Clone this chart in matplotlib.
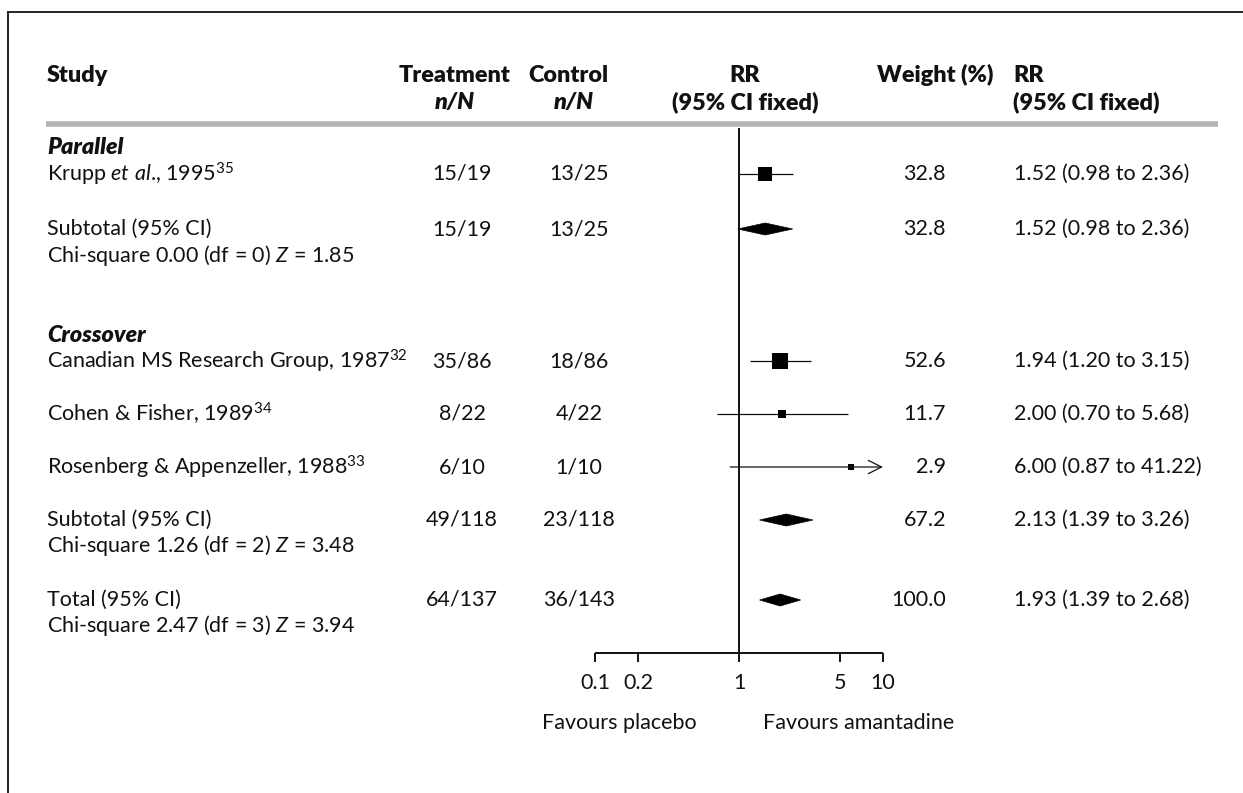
import matplotlib
matplotlib.use("Agg")
import matplotlib.pyplot as plt
import numpy as np
from matplotlib.patches import Polygon

plt.rcParams['font.family'] = ['Lato', 'DejaVu Sans']
plt.rcParams['mathtext.fontset'] = 'custom'
plt.rcParams['mathtext.rm'] = 'Lato'
plt.rcParams['mathtext.it'] = 'Lato:italic'
plt.rcParams['mathtext.bf'] = 'Lato:bold'

# data
group_names = ["Parallel", "Crossover"]
study_labels = [r"Krupp $\mathit{et\ al}$., 1995$^{35}$",
                r"Canadian MS Research Group, 1987$^{32}$",
                r"Cohen & Fisher, 1989$^{34}$",
                r"Rosenberg & Appenzeller, 1988$^{33}$"]
treat = ["15/19", "35/86", "8/22", "6/10"]
ctrl = ["13/25", "18/86", "4/22", "1/10"]
rr = [1.52, 1.94, 2.00, 6.00]
lo = [0.98, 1.20, 0.70, 0.87]
hi = [2.36, 3.15, 5.68, 41.22]
weight = [32.8, 52.6, 11.7, 2.9]

sum_labels = ["Subtotal (95% CI)", "Subtotal (95% CI)", "Total (95% CI)"]
sum_stats = [r"Chi-square 0.00 (df = 0) $\mathit{Z}$ = 1.85",
             r"Chi-square 1.26 (df = 2) $\mathit{Z}$ = 3.48",
             r"Chi-square 2.47 (df = 3) $\mathit{Z}$ = 3.94"]
sum_treat = ["15/19", "49/118", "64/137"]
sum_ctrl = ["13/25", "23/118", "36/143"]
sum_rr = [1.52, 2.13, 1.93]
sum_lo = [0.98, 1.39, 1.39]
sum_hi = [2.36, 3.26, 2.68]
sum_weight = [32.8, 67.2, 100.0]

ticks = [0.1, 0.2, 1, 5, 10]
tick_labels = ["0.1", "0.2", "1", "5", "10"]

# layout (pixels)
W, H = 1243, 793
group_y = [148, 336]
study_y = [174, 361, 414, 467]
sum_y = [229, 520, 600]
line_gap = 26
axis_y = 653
x_one, px_dec = 739, 144
fs = 15.5
fs_head = 16.8
col = '#111111'

fig = plt.figure(figsize=(W / 100, H / 100), dpi=100)
ta = fig.add_axes([0, 0, 1, 1])
ta.set_xlim(0, W)
ta.set_ylim(H, 0)
ta.axis('off')

# border
ta.plot([8, W], [12, 12], color='#222222', lw=1.4)
ta.plot([8, 8], [12, H], color='#222222', lw=1.4)

# headers
hb = dict(fontsize=fs_head, fontweight='heavy', color=col, va='center')
ta.text(47, 75, "Study", ha='left', **hb)
ta.text(455, 75, "Treatment", ha='center', **hb)
ta.text(455, 102, "n/N", ha='center', fontstyle='italic', **hb)
ta.text(568, 75, "Control", ha='center', **hb)
ta.text(574, 102, "n/N", ha='center', fontstyle='italic', **hb)
ta.text(745, 75, "RR", ha='center', **hb)
ta.text(745, 102, "(95% CI fixed)", ha='center', **hb)
ta.text(993, 75, "Weight (%)", ha='right', **hb)
ta.text(1013, 75, "RR", ha='left', **hb)
ta.text(1013, 102, "(95% CI fixed)", ha='left', **hb)
ta.plot([46, 1218], [124, 124], color='#b4b4b4', lw=4, solid_capstyle='butt')

tx = dict(fontsize=fs, color=col, va='center')
for name, y in zip(group_names, group_y):
    ta.text(47, y, name, ha='left', fontsize=fs_head, fontweight='heavy',
            fontstyle='italic', color=col, va='center')

for i, y in enumerate(study_y):
    ta.text(47, y, study_labels[i], ha='left', **tx)
    ta.text(462, y, treat[i], ha='center', **tx)
    ta.text(579, y, ctrl[i], ha='center', **tx)
    ta.text(946, y, "%.1f" % weight[i], ha='right', **tx)
    ta.text(1014, y, "%.2f (%.2f to %.2f)" % (rr[i], lo[i], hi[i]), ha='left', **tx)

for i, y in enumerate(sum_y):
    ta.text(47, y, sum_labels[i], ha='left', **tx)
    ta.text(47, y + line_gap, sum_stats[i], ha='left', **tx)
    ta.text(462, y, sum_treat[i], ha='center', **tx)
    ta.text(579, y, sum_ctrl[i], ha='center', **tx)
    ta.text(946, y, "%.1f" % sum_weight[i], ha='right', **tx)
    ta.text(1014, y, "%.2f (%.2f to %.2f)" % (sum_rr[i], sum_lo[i], sum_hi[i]), ha='left', **tx)

ta.text(697, 723, "Favours placebo", ha='right', **tx)
ta.text(763, 723, "Favours amantadine", ha='left', **tx)

# forest axes (log scale)
x0, x1 = 560, 920
fa = fig.add_axes([x0 / W, 0, (x1 - x0) / W, 1], sharey=ta)
fa.set_xscale('log')
fa.set_xlim(10 ** ((x0 - x_one) / px_dec), 10 ** ((x1 - x_one) / px_dec))
fa.axis('off')
fa.patch.set_alpha(0)

fa.vlines(1, 128, axis_y, color=col, lw=1.4)
fa.hlines(axis_y, ticks[0], ticks[-1], color=col, lw=1.4)
for t, lab in zip(ticks, tick_labels):
    fa.vlines(t, axis_y, axis_y + 9, color=col, lw=1.4)
    fa.text(t, 683, lab, ha='center', va='center', fontsize=fs, color=col)

for i, y in enumerate(study_y):
    side = max(6, 2.3 * np.sqrt(weight[i]))
    if hi[i] > ticks[-1]:
        fa.annotate('', xy=(ticks[-1], y), xytext=(lo[i], y),
                    arrowprops=dict(arrowstyle='->', lw=0.9, color=col,
                                    mutation_scale=24, shrinkA=0, shrinkB=0))
    else:
        fa.hlines(y, lo[i], hi[i], color=col, lw=0.9)
    fa.plot(rr[i], y, 's', color='black', markersize=side * 0.72, mew=0)

for i, y in enumerate(sum_y):
    d = Polygon([(sum_lo[i], y), (sum_rr[i], y - 6), (sum_hi[i], y), (sum_rr[i], y + 6)],
                closed=True, facecolor='black', edgecolor='black', lw=0.5)
    fa.add_patch(d)

fig.savefig("out.png", dpi=100)
